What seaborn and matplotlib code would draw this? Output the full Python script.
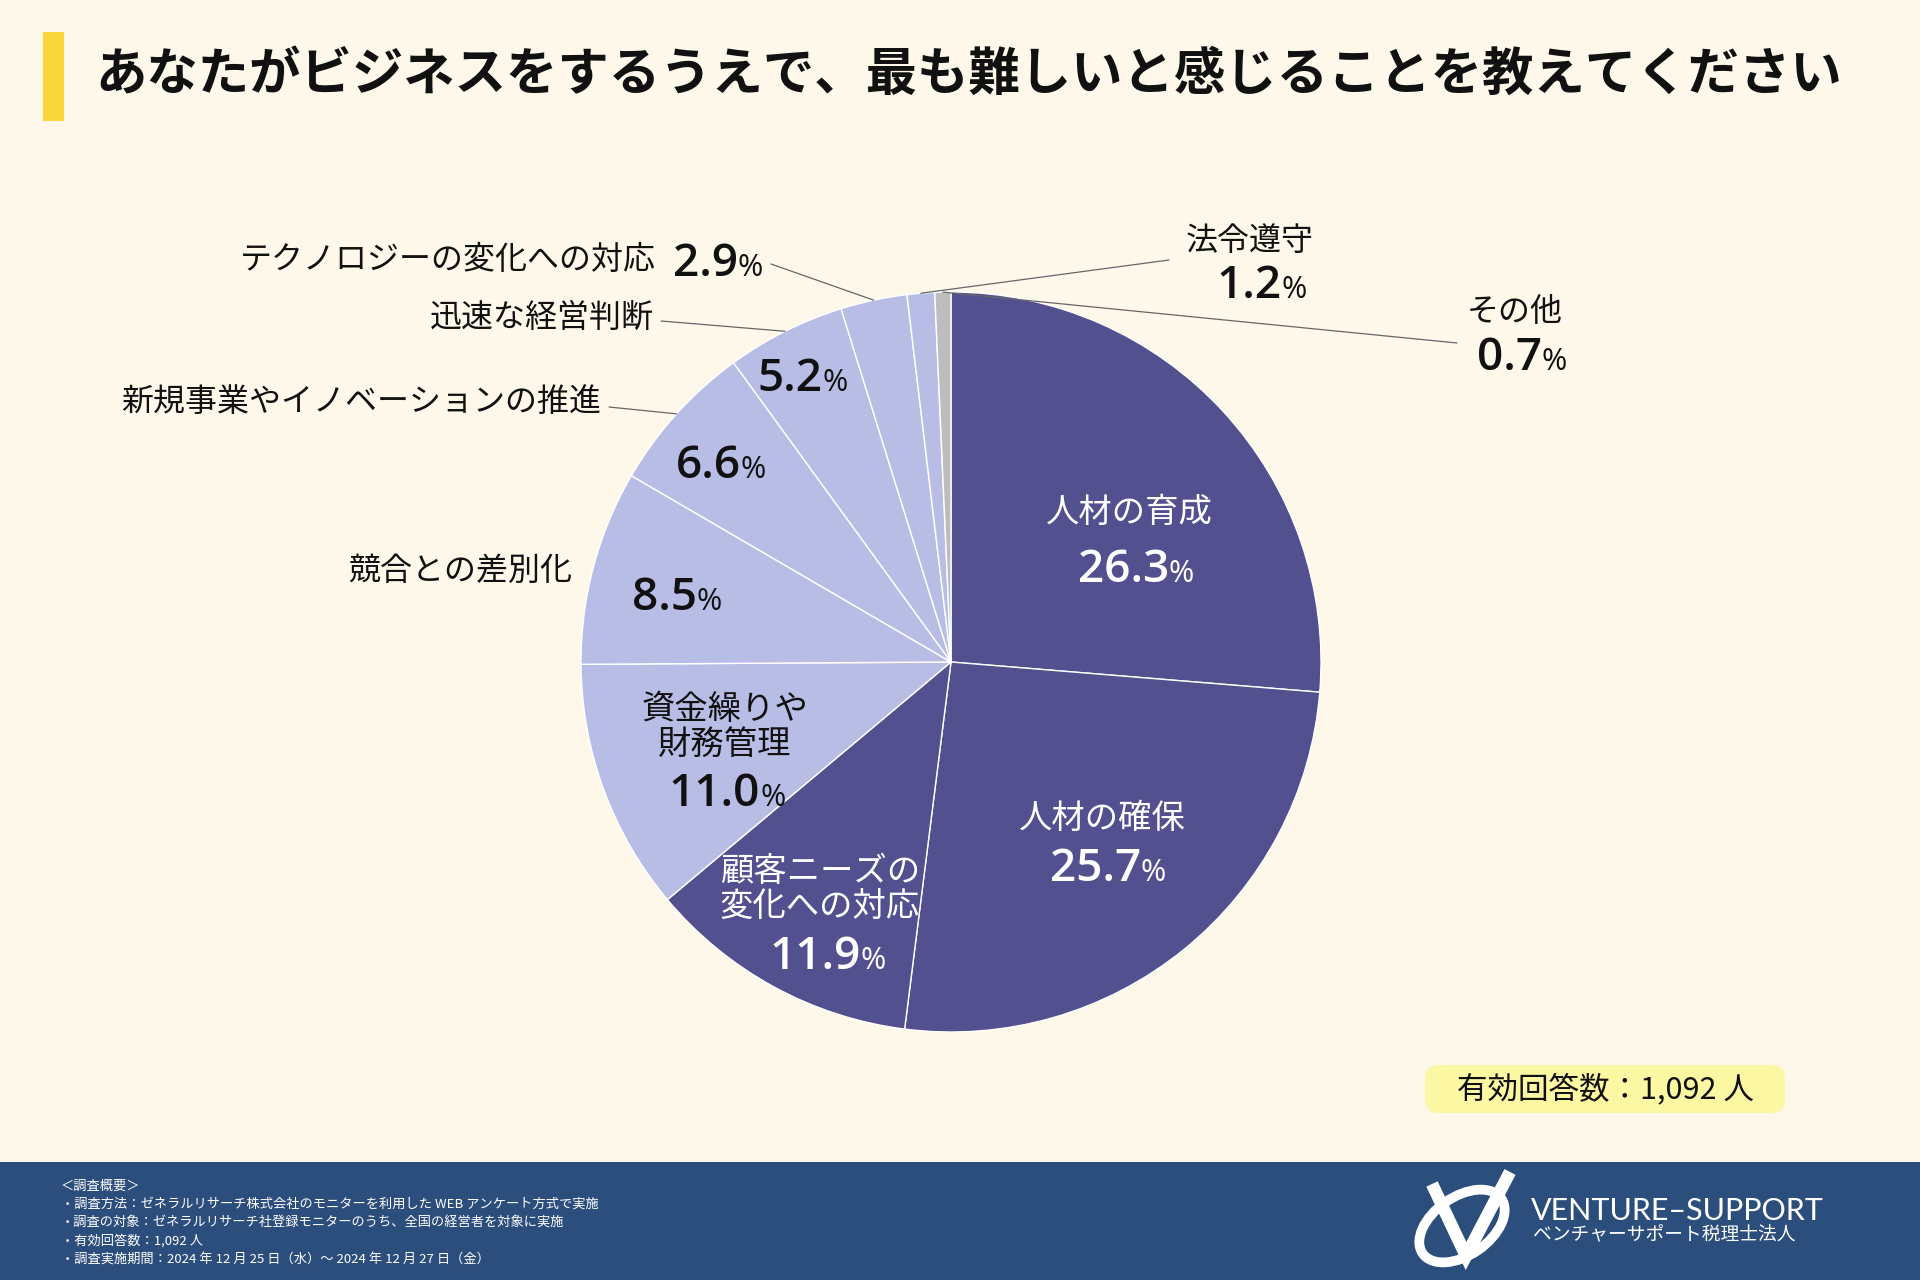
import numpy as np
import matplotlib
matplotlib.use("Agg")
import matplotlib.pyplot as plt
import matplotlib.patches as mpatches
import seaborn as sns

# Data
categories = [
    "人材の育成", "人材の確保", "顧客ニーズの\n変化への対応", "資金繰りや\n財務管理",
    "競合との差別化", "新規事業やイノベーションの推進", "迅速な経営判断",
    "テクノロジーの変化への対応", "法令遵守", "その他",
]
shares = [26.3, 25.7, 11.9, 11.0, 8.5, 6.6, 5.2, 2.9, 1.2, 0.7]
title = "あなたがビジネスをするうえで、最も難しいと感じることを教えてください"
respondents = "有効回答数：1,092 人"
notes = [
    "＜調査概要＞",
    "・調査方法：ゼネラルリサーチ株式会社のモニターを利用した WEB アンケート方式で実施",
    "・調査の対象：ゼネラルリサーチ社登録モニターのうち、全国の経営者を対象に実施",
    "・有効回答数：1,092 人",
    "・調査実施期間：2024 年 12 月 25 日（水）～ 2024 年 12 月 27 日（金）",
]

# Colours
BG = "#fdf8e9"
DARK = "#52508f"
LIGHT = "#b8bde6"
GREY = "#bdbdbd"
FOOTER = "#2c4e7c"
slice_colors = sns.color_palette([DARK] * 3 + [LIGHT] * 6 + [GREY])

sns.set_style("white")
plt.rcParams["font.family"] = ["Noto Sans CJK JP", "DejaVu Sans"]
NUMFONT = ["Open Sans", "Noto Sans CJK JP"]

W, H = 1920, 1280
fig = plt.figure(figsize=(W / 100, H / 100), dpi=100, facecolor=BG)

# overlay axes in pixel coordinates (y down)
ov = fig.add_axes([0, 0, 1, 1])
ov.set_xlim(0, W)
ov.set_ylim(H, 0)
ov.axis("off")
ov.set_zorder(2)
ov.patch.set_alpha(0)

# pie axes
cx, cy, R = 951, 662, 370
ax = fig.add_axes([(cx - R) / W, (H - cy - R) / H, 2 * R / W, 2 * R / H])
ax.set_zorder(1)
wedges, _ = ax.pie(
    shares, colors=slice_colors, startangle=90, counterclock=False,
    wedgeprops=dict(edgecolor="white", linewidth=1.0),
)
ax.set_xlim(-1, 1)
ax.set_ylim(-1, 1)
ax.set_aspect("equal")
ax.axis("off")

# background decorations
ov.add_patch(mpatches.Rectangle((43, 32), 21, 89, color="#f9d73c", lw=0))
ov.text(95, 74, title, fontsize=37, fontweight="bold", va="center", ha="left", color="#111111")
ov.add_patch(mpatches.Rectangle((0, 1162), W, H - 1162, color=FOOTER, lw=0))

renderer = fig.canvas.get_renderer()


def pct_label(x, y, value, color, size=33, small=22):
    base = y + 0.357 * size * 100 / 72
    t1 = ov.text(0, base, "{:.1f}".format(value), fontsize=size, fontweight="semibold",
                 family=NUMFONT, color=color, va="baseline", ha="left")
    t2 = ov.text(0, base, "%", fontsize=small, family=NUMFONT, color=color,
                 va="baseline", ha="left")
    w1 = t1.get_window_extent(renderer).width
    w2 = t2.get_window_extent(renderer).width
    left = x - (w1 + w2) / 2
    t1.set_x(left)
    t2.set_x(left + w1)


def wedge_point(i, r=1.0):
    w = wedges[i]
    mid = np.deg2rad((w.theta1 + w.theta2) / 2)
    disp = ax.transData.transform((r * np.cos(mid), r * np.sin(mid)))
    return ov.transData.inverted().transform(disp)


# inside labels: (name x, name y, pct x, pct y, colour)
inside = {
    0: (1129, 512, 1136, 566, "white"),
    1: (1102, 818, 1108, 865, "white"),
    2: (820, 889, 828, 953, "white"),
    3: (725, 727, 727, 790, "#111111"),
}
for i, (nx, ny, px, py, col) in inside.items():
    ov.text(nx, ny, categories[i], fontsize=24, color=col, ha="center", va="center",
            linespacing=1.0)
    pct_label(px, py, shares[i], col)

# percentages inside, names outside with leader line
outside = {
    4: (572, 571, 677, 594, None),
    5: (601, 402, 721, 462, (609, 407)),
    6: (654, 318, 803, 375, (661, 321)),
}
for i, (nx, ny, px, py, start) in outside.items():
    ov.text(nx, ny, categories[i], fontsize=23, color="#111111", ha="right", va="center")
    pct_label(px, py, shares[i], "#111111")
    if start is not None:
        ex, ey = wedge_point(i)
        ov.plot([start[0], ex], [start[1], ey], color="#666666", lw=0.9)

# テクノロジー
ov.text(656, 260, categories[7], fontsize=23, color="#111111", ha="right", va="center")
pct_label(718, 260, shares[7], "#111111", size=33, small=22)
ex, ey = wedge_point(7)
ov.plot([771, ex], [264, ey], color="#666666", lw=0.9)

# 法令遵守 / その他
for i, (nx, ny, px, py, start) in {8: (1250, 241, 1262, 282, (1169, 260)),
                                   9: (1515, 312, 1522, 354, (1457, 343))}.items():
    ov.text(nx, ny, categories[i], fontsize=23, color="#111111", ha="center", va="center")
    pct_label(px, py, shares[i], "#111111", size=33, small=22)
    ex, ey = wedge_point(i)
    ov.plot([start[0], ex], [start[1], ey], color="#666666", lw=0.9)

# respondents box
ov.add_patch(mpatches.FancyBboxPatch((1425, 1065), 360, 48,
                                     boxstyle="round,pad=0,rounding_size=14",
                                     color="#fbf7a2", lw=0))
ov.text(1605, 1089, respondents, fontsize=22, color="#111111", ha="center", va="center")

# footer notes
for k, line in enumerate(notes):
    ov.text(61, 1186 + k * 18.4, line, fontsize=9.5, color="white", ha="left", va="center")

# logo
ov.add_patch(mpatches.Ellipse((1462, 1226), 96, 58, angle=-35, fill=False,
                              ec="white", lw=7))
ov.plot([1432, 1466, 1510], [1184, 1256, 1172], color="white", lw=9,
        solid_joinstyle="miter", solid_capstyle="butt")
ov.text(1531, 1211, "VENTURE–SUPPORT", fontsize=22, color="white", family=["Lato", "DejaVu Sans"],
        ha="left", va="center")
ov.text(1533, 1235, "ベンチャーサポート税理士法人", fontsize=13.5, color="white",
        ha="left", va="center")

fig.savefig("out.png", dpi=100, facecolor=BG)
